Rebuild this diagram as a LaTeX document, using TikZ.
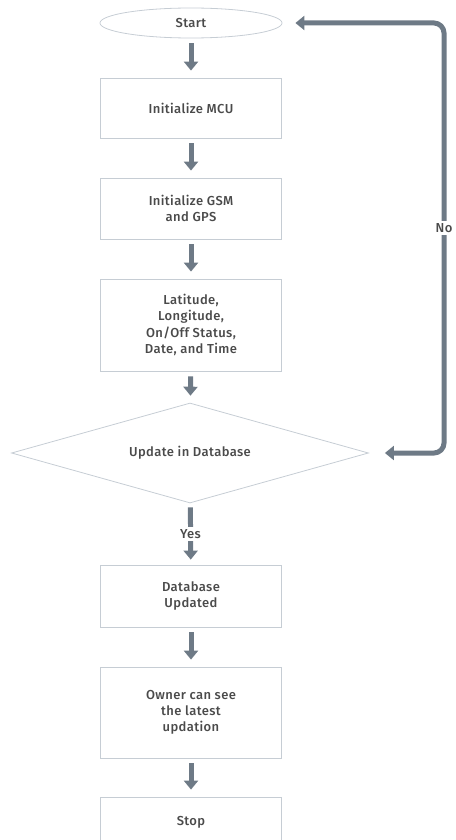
\documentclass[tikz,border=0pt]{standalone}
\usepackage{xcolor}
\usepackage{fontspec}
\setmainfont{Fira Sans}[UprightFont={* Medium}, LetterSpace=3]
\usepackage{tikz}
\usetikzlibrary{shapes.geometric, arrows.meta}
\definecolor{edgegray}{HTML}{C6CDD4}
\definecolor{arrowgray}{HTML}{6E7A86}
\definecolor{textgray}{HTML}{4A4A4A}
\tikzset{
    >={Triangle[width=14pt,length=9pt]},
    process/.style={rectangle, draw=edgegray, thick, minimum width=181pt, minimum height=#1, align=center, text=textgray},
    terminal/.style={ellipse, draw=edgegray, thick, minimum width=182pt, minimum height=30pt, inner sep=0pt, text=textgray},
    decision/.style={diamond, draw=edgegray, thick, aspect=3.57, minimum width=357pt, minimum height=100pt, inner sep=0pt, text=textgray},
    flow/.style={draw=arrowgray, line width=5pt, ->, shorten <=5pt, shorten >=7pt},
    tag/.style={fill=white, text=textgray, inner sep=2pt}
}

\begin{document}
\begin{tikzpicture}[x=1pt, y=-1pt, font=\fontsize{13}{16.3}\selectfont]
            \useasboundingbox (0,0) rectangle (455,840);

            % Main column
            \node[terminal] (start) at (191,23) {Start};
            \node[process=60pt] (mcu) at (191,108) {Initialize MCU};
            \node[process=61pt] (gsm) at (191,208.5) {Initialize GSM\\and GPS};
            \node[process=92pt] (data) at (191,325) {Latitude,\\Longitude,\\On/Off Status,\\Date, and Time};
            \node[decision] (update) at (190,453) {Update in Database};
            \node[process=62pt] (updated) at (191,596) {Database\\Updated};
            \node[process=91pt] (owner) at (191,712.5) {Owner can see\\the latest\\updation};
            \node[process=64pt, text depth=16pt] (stop) at (191,829) {Stop};

            % Arrows
            \draw[flow] (start) -- (mcu);
            \draw[flow] (mcu) -- (gsm);
            \draw[flow] (gsm) -- (data);
            \draw[flow] (data) -- (update);
            \draw[flow, shorten <=4pt, shorten >=5pt] (update) -- node[tag] (yes) {Yes} (updated);
            \draw[flow] (updated) -- (owner);
            \draw[flow] (owner) -- (stop);

            % Loop back
            \coordinate (loopbot) at (444,453);
            \coordinate (looptop) at (444,23);
            \draw[flow, <->, rounded corners=10pt, shorten <=16pt, shorten >=13pt] (update.east) -- (loopbot) -- (looptop) -- (start.east);
            \node[tag] (no) at (444,228) {No};

        \end{tikzpicture}
\end{document}
